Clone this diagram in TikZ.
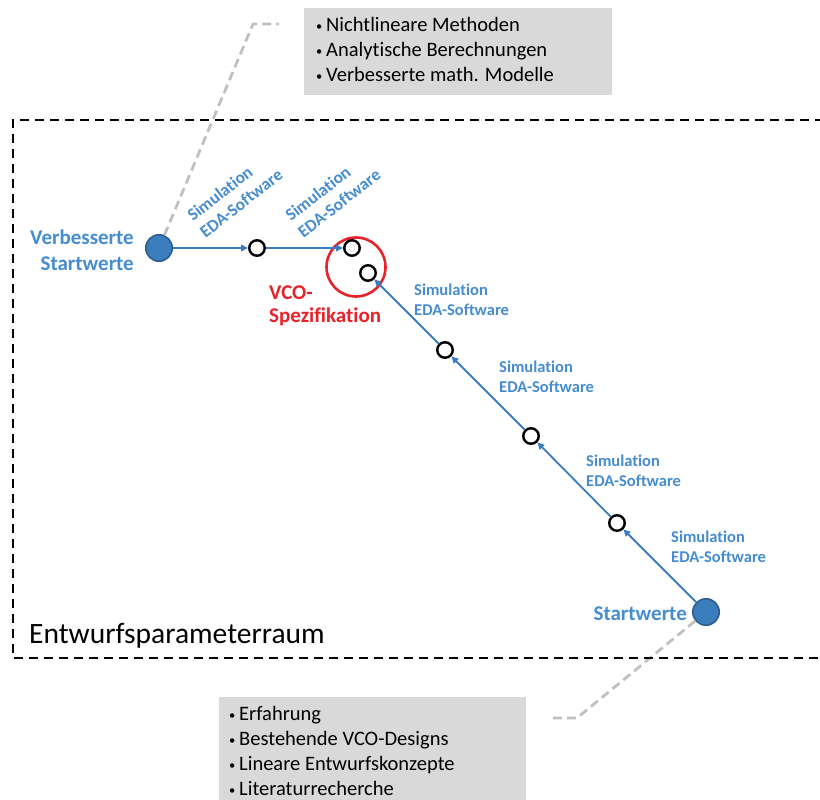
\documentclass[tikz,border=0pt]{standalone}
\usepackage{fontspec}
\setmainfont{Carlito}[Ligatures=NoCommon]
\usetikzlibrary{arrows.meta}
\definecolor{txtblue}{RGB}{70,140,208}
\definecolor{lineblue}{RGB}{58,124,192}
\definecolor{nodefill}{RGB}{60,125,190}
\definecolor{nodeedge}{RGB}{44,92,142}
\definecolor{specred}{RGB}{232,34,40}
\definecolor{boxgray}{RGB}{217,217,217}
\definecolor{leadgray}{RGB}{192,192,192}
\newcommand{\notebullet}{\makebox[11pt][l]{\hspace{1pt}\raisebox{0.8pt}{\fontsize{12.5}{12.5}\selectfont\textbullet}}}

\begin{document}
\begin{tikzpicture}[x=1pt,y=-1pt,
  startnode/.style={circle,fill=nodefill,draw=nodeedge,line width=1.5pt,minimum size=26.5pt,inner sep=0pt},
  iter/.style={circle,draw=black,line width=2.4pt,fill=white,minimum size=15.5pt,inner sep=0pt},
  flow/.style={draw=lineblue,line width=1.8pt,-{Triangle[length=7pt,width=6.5pt]}},
  simlabel/.style={text=txtblue,font=\bfseries\fontsize{16.5}{20}\selectfont,inner sep=0pt},
  rotlabel/.style={text=txtblue,font=\bfseries\fontsize{17.3}{20}\selectfont,inner sep=0pt,rotate=38,anchor=base west},
  biglabel/.style={font=\bfseries\fontsize{21}{25}\selectfont,inner sep=0pt},
  leader/.style={draw=leadgray,line width=2.8pt,dash pattern=on 9pt off 5pt},
  frame/.style={draw=black,line width=2.4pt,dash pattern=on 9pt off 6pt},
  notebox/.style={fill=boxgray},
  notetext/.style={font=\fontsize{20.5}{25}\selectfont,inner sep=0pt,anchor=base west}
]
\useasboundingbox (0,0) rectangle (820,800);

% nodes of the iteration paths
\node[startnode] (vb) at (159,248) {};
\node[startnode] (sw) at (706,612) {};
\node[circle,draw=specred,line width=2.6pt,minimum size=59pt,inner sep=0pt] (spec) at (356,267) {};
\node[iter] (h1) at (257,248) {};
\node[iter] (h2) at (352,248) {};
\node[iter] (d0) at (368,273) {};
\node[iter] (d1) at (445,350) {};
\node[iter] (d2) at (531,436) {};
\node[iter] (d3) at (617,523) {};

% leader lines to the note boxes
\coordinate (lt1) at (253,24);
\coordinate (lt2) at (279,24);
\coordinate (lb1) at (577,718);
\coordinate (lb2) at (552,718);
\draw[leader] (vb) -- (lt1) -- (lt2);
\draw[leader] (sw) -- (lb1) -- (lb2);

% design parameter space
\draw[frame] (824,120) -- (13,120) -- (13,658) -- (824,658);
\node[font=\fontsize{29.5}{34}\selectfont,inner sep=0pt,anchor=base west] (raum) at (29,643) {Entwurfsparameterraum};

% note boxes
\fill[notebox] (304,8) rectangle (612,95);
\fill[notebox] (219,697) rectangle (526,805);
\node[notetext] (t1) at (315,31.5) {\notebullet Nichtlineare Methoden};
\node[notetext] (t2) at (315,56.5) {\notebullet Analytische Berechnungen};
\node[notetext] (t3) at (315,81.5) {\notebullet Verbesserte math. Modelle};
\node[notetext] (b1) at (228,720.5) {\notebullet Erfahrung};
\node[notetext] (b2) at (228,745.5) {\notebullet Bestehende VCO-Designs};
\node[notetext] (b3) at (228,770.5) {\notebullet Lineare Entwurfskonzepte};
\node[notetext] (b4) at (228,795.5) {\notebullet Literaturrecherche};

% connectors
\draw[flow] (vb) -- (h1);
\draw[flow] (h1) -- (h2);
\draw[flow] (sw) -- (d3);
\draw[flow] (d3) -- (d2);
\draw[flow] (d2) -- (d1);
\draw[flow] (d1) -- (d0);

% labels
\node[biglabel,text=txtblue,anchor=base east] (vbl1) at (134,244) {Verbesserte};
\node[biglabel,text=txtblue,anchor=base east] (vbl2) at (134,270) {Startwerte};
\node[biglabel,text=txtblue,anchor=base east] (swl) at (687,620) {Startwerte};
\node[biglabel,text=specred,anchor=base west] (spl1) at (269,299) {VCO-};
\node[biglabel,text=specred,anchor=base west] (spl2) at (269,322) {Spezifikation};

% slanted labels on the upper path
\node[rotlabel] (r1a) at (193,222) {Simulation};
\node[rotlabel] (r1b) at (205.5,238.5) {EDA-Software};
\node[rotlabel] (r2a) at (291,222) {Simulation};
\node[rotlabel] (r2b) at (303.5,238.5) {EDA-Software};

% labels on the lower path
\node[simlabel,anchor=base west] (s1a) at (414,295.5) {Simulation};
\node[simlabel,anchor=base west] (s1b) at (414,315.5) {EDA-Software};
\node[simlabel,anchor=base west] (s2a) at (499,372.5) {Simulation};
\node[simlabel,anchor=base west] (s2b) at (499,392.5) {EDA-Software};
\node[simlabel,anchor=base west] (s3a) at (586,466.5) {Simulation};
\node[simlabel,anchor=base west] (s3b) at (586,486.5) {EDA-Software};
\node[simlabel,anchor=base west] (s4a) at (671,542.5) {Simulation};
\node[simlabel,anchor=base west] (s4b) at (671,562.5) {EDA-Software};
\end{tikzpicture}
\end{document}
